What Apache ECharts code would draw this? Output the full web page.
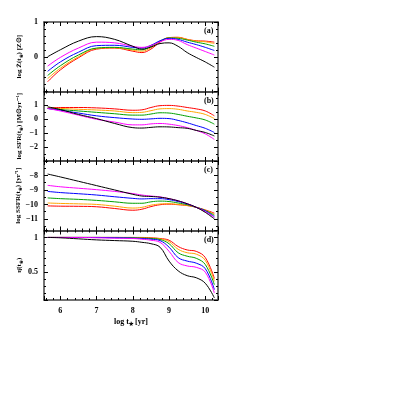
<!DOCTYPE html>
<html><head><meta charset="utf-8">
<script src="https://cdn.jsdelivr.net/npm/echarts@6/dist/echarts.min.js"></script>
<style>html,body{margin:0;padding:0;background:#fff}#c{width:415px;height:415px}</style>
</head><body><div id="c"></div>
<script>
// x values: log t* [yr]
const logT = [5.65, 6.0, 6.5, 7.0, 7.5, 8.0, 8.25, 8.5, 8.75, 9.0, 9.25, 9.5, 9.75, 10.0, 10.25];
const seriesNames = ['s1', 's2', 's3', 's4', 's5', 's6'];
const seriesColors = ['#000000', '#ff00ff', '#0000ff', '#00a000', '#ffa500', '#ff0000'];

// panel (a): log Z(t*)
const aBlack   = [0.0, 0.2, 0.45, 0.58, 0.5, 0.3, 0.22, 0.28, 0.38, 0.4, 0.3, 0.12, -0.02, -0.15, -0.3];
const aMagenta = [-0.27, -0.02, 0.25, 0.42, 0.4, 0.3, 0.27, 0.32, 0.43, 0.5, 0.47, 0.35, 0.25, 0.15, 0.05];
const aBlue    = [-0.42, -0.15, 0.13, 0.32, 0.33, 0.27, 0.25, 0.33, 0.46, 0.53, 0.5, 0.42, 0.35, 0.27, 0.18];
const aGreen   = [-0.54, -0.26, 0.05, 0.25, 0.27, 0.22, 0.2, 0.3, 0.45, 0.54, 0.53, 0.48, 0.42, 0.37, 0.3];
const aOrange  = [-0.63, -0.33, 0.0, 0.24, 0.26, 0.19, 0.16, 0.26, 0.44, 0.55, 0.55, 0.5, 0.45, 0.43, 0.38];
const aRed     = [-0.72, -0.38, -0.03, 0.22, 0.25, 0.16, 0.12, 0.22, 0.42, 0.55, 0.56, 0.5, 0.46, 0.45, 0.42];

// panel (b): log SFR(t*)
const bBlack   = [0.9, 0.7, 0.35, 0.05, -0.3, -0.6, -0.63, -0.58, -0.54, -0.55, -0.6, -0.65, -0.8, -0.95, -1.2];
const bMagenta = [0.78, 0.6, 0.3, 0.0, -0.2, -0.4, -0.4, -0.33, -0.3, -0.35, -0.45, -0.6, -0.8, -1.05, -1.45];
const bBlue    = [0.78, 0.65, 0.45, 0.25, 0.12, 0.02, 0.0, 0.03, 0.07, 0.05, -0.08, -0.25, -0.45, -0.65, -0.95];
const bGreen   = [0.78, 0.7, 0.6, 0.5, 0.4, 0.3, 0.3, 0.38, 0.47, 0.45, 0.35, 0.22, 0.1, -0.05, -0.35];
const bOrange  = [0.8, 0.78, 0.72, 0.67, 0.6, 0.48, 0.5, 0.62, 0.75, 0.77, 0.72, 0.6, 0.5, 0.35, 0.05];
const bRed     = [0.8, 0.85, 0.85, 0.82, 0.75, 0.65, 0.68, 0.85, 0.98, 1.0, 0.95, 0.85, 0.75, 0.6, 0.25];

// panel (c): log SSFR(t*)
const cBlack   = [-7.9, -8.1, -8.4, -8.7, -9.0, -9.3, -9.42, -9.45, -9.5, -9.6, -9.75, -9.95, -10.2, -10.55, -11.0];
const cMagenta = [-8.68, -8.78, -8.88, -8.98, -9.1, -9.25, -9.35, -9.42, -9.48, -9.6, -9.75, -9.95, -10.2, -10.5, -10.9];
const cBlue    = [-9.1, -9.18, -9.26, -9.35, -9.47, -9.58, -9.62, -9.6, -9.6, -9.67, -9.8, -9.97, -10.2, -10.45, -10.85];
const cGreen   = [-9.55, -9.6, -9.65, -9.72, -9.82, -9.92, -9.92, -9.82, -9.77, -9.8, -9.9, -10.02, -10.2, -10.42, -10.75];
const cOrange  = [-9.9, -9.93, -9.96, -10.0, -10.12, -10.25, -10.2, -10.05, -9.97, -9.95, -10.0, -10.07, -10.2, -10.4, -10.68];
const cRed     = [-10.1, -10.12, -10.13, -10.16, -10.28, -10.4, -10.33, -10.15, -10.02, -9.98, -10.02, -10.08, -10.2, -10.38, -10.6];

// panel (d): eta(t*)
const dBlack   = [1.0, 0.995, 0.98, 0.965, 0.955, 0.945, 0.93, 0.91, 0.86, 0.66, 0.52, 0.45, 0.42, 0.34, 0.13];
const dMagenta = [1, 1, 1, 0.995, 0.99, 0.985, 0.975, 0.96, 0.93, 0.8, 0.64, 0.59, 0.57, 0.5, 0.2];
const dBlue    = [1, 1, 1, 1, 0.995, 0.99, 0.985, 0.975, 0.955, 0.86, 0.71, 0.66, 0.63, 0.55, 0.25];
const dGreen   = [1, 1, 1, 1, 1, 0.995, 0.99, 0.985, 0.97, 0.91, 0.78, 0.73, 0.7, 0.61, 0.32];
const dOrange  = [1, 1, 1, 1, 1, 1, 0.995, 0.99, 0.98, 0.94, 0.83, 0.78, 0.76, 0.67, 0.37];
const dRed     = [1, 1, 1, 1, 1, 1, 1, 0.995, 0.985, 0.96, 0.87, 0.82, 0.8, 0.71, 0.41];

const panelLetters = ['(a)', '(b)', '(c)', '(d)'];
const yNames = ['log Z\u0304(t\u204E) [Z\u2299]', 'log SFR(t\u204E) [M\u2299yr\u207B\u00B9]', 'log SSFR(t\u204E) [yr\u207B\u00B9]', '\u03B7\u0304(t\u204E)'];
const xName = 'log t\u204E [yr]';

const panels = [
  [aBlack, aMagenta, aBlue, aGreen, aOrange, aRed],
  [bBlack, bMagenta, bBlue, bGreen, bOrange, bRed],
  [cBlack, cMagenta, cBlue, cGreen, cOrange, cRed],
  [dBlack, dMagenta, dBlue, dGreen, dOrange, dRed]
];
const yRanges = [
  {min: -1, max: 1, interval: 1, minor: 5},
  {min: -3, max: 2, interval: 1, minor: 2},
  {min: -11.8, max: -7, splitNumber: 5, minor: 2},
  {min: 0.1, max: 1.1, splitNumber: 2, minor: 5}
];

const font = 'Liberation Serif';
const frameColor = '#444';
const L = 44, W = 174, T = 22, H = 69.5;

const grids = [], xAxes = [], yAxes = [], series = [], graphics = [];
panels.forEach((p, i) => {
  grids.push({left: L, top: T + i * H, width: W, height: H});
  const isLast = i === panels.length - 1;
  const xBase = {
    gridIndex: i, type: 'value', min: 5.55, max: 10.35, splitNumber: 5,
    axisLine: {onZero: false, lineStyle: {color: frameColor, width: 1.5}},
    axisTick: {inside: true, length: 4, lineStyle: {color: '#000', width: 1}},
    minorTick: {show: true, splitNumber: 5, length: 2, lineStyle: {color: '#000', width: 1}},
    splitLine: {show: false}
  };
  xAxes.push(Object.assign({}, xBase, {
    position: 'bottom',
    axisLabel: {show: isLast, showMinLabel: false, showMaxLabel: false, color: '#000', fontFamily: font, fontSize: 8, fontWeight: 'bold', margin: 7},
    name: isLast ? xName : '', nameLocation: 'middle', nameGap: 18,
    nameTextStyle: {color: '#000', fontFamily: font, fontSize: 8, fontWeight: 'bold'}
  }));
  xAxes.push(Object.assign({}, xBase, {position: 'top', axisLabel: {show: false}}));
  const r = yRanges[i];
  const yBase = {
    gridIndex: i, type: 'value', min: r.min, max: r.max,
    axisLine: {show: true, onZero: false, lineStyle: {color: frameColor, width: 1.5}},
    axisTick: {show: true, inside: true, length: 4, lineStyle: {color: '#000', width: 1}},
    minorTick: {show: true, splitNumber: r.minor, length: 2, lineStyle: {color: '#000', width: 1}},
    splitLine: {show: false}
  };
  if (r.interval) yBase.interval = r.interval; else yBase.splitNumber = r.splitNumber;
  yAxes.push(Object.assign({}, yBase, {
    position: 'left',
    axisLabel: {show: true, showMinLabel: false, showMaxLabel: i === 0, color: '#000', fontFamily: font, fontSize: 8, fontWeight: 'bold', margin: 6,
      formatter: v => String(v).replace('-', '\u2212')},
    name: yNames[i], nameLocation: 'middle', nameGap: 21, nameRotate: 90,
    nameTextStyle: {color: '#000', fontFamily: font, fontSize: 7, fontWeight: 'bold'}
  }));
  yAxes.push(Object.assign({}, yBase, {position: 'right', axisLabel: {show: false}}));
  p.forEach((arr, k) => {
    series.push({
      type: 'line', name: seriesNames[k] + '_' + i,
      xAxisIndex: 2 * i, yAxisIndex: 2 * i,
      data: logT.map((x, j) => [x, arr[j]]),
      smooth: 0.4, showSymbol: false, symbol: 'none',
      lineStyle: {color: seriesColors[k], width: 1},
      z: 2 + (5 - k)
    });
  });
  graphics.push({type: 'text', left: L + W - 14, top: T + i * H + 5,
    style: {text: panelLetters[i], fill: '#000', font: 'bold 8px ' + font}});
});

const chart = echarts.init(document.getElementById('c'), null, {renderer: 'canvas'});
chart.setOption({
  animation: false,
  grid: grids, xAxis: xAxes, yAxis: yAxes, series: series, graphic: graphics
});
</script></body></html>
